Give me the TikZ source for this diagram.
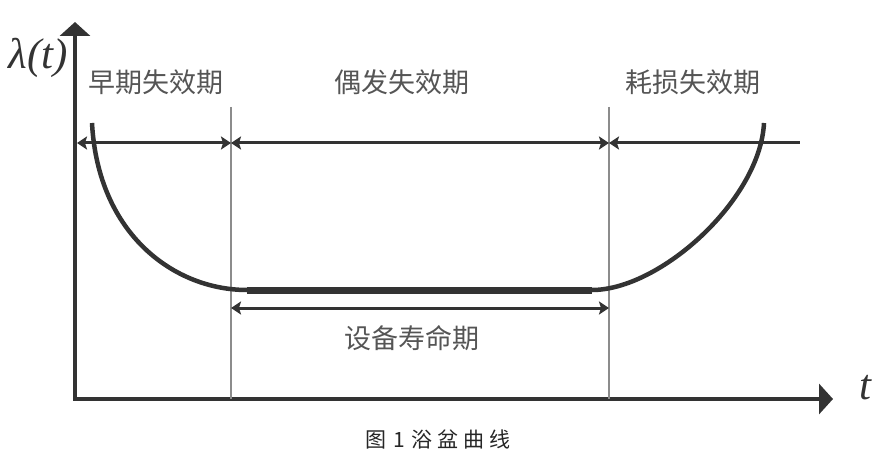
\documentclass[tikz,border=0pt]{standalone}
\usepackage{fontspec}
\newfontfamily\cjk{Noto Sans CJK SC}
\newfontfamily\symfont{Liberation Serif}
\usetikzlibrary{arrows.meta}
\definecolor{ink}{HTML}{333333}
\definecolor{labelgray}{HTML}{555555}
\definecolor{guidegray}{HTML}{8C8C8C}
\begin{document}
\begin{tikzpicture}[x=1pt,y=1pt,
	axis/.style={ink,line width=4.5pt,-{Triangle[length=14pt,width=30pt]}},
	span/.style={ink,line width=3pt},
	tip/.tip={Stealth[length=10pt,width=13pt,inset=2pt]},
	guide/.style={guidegray,line width=1.5pt},
	curve/.style={ink,line width=4.5pt},
	phase/.style={text=labelgray,font=\cjk\fontsize{27}{30}\selectfont},
	axislabel/.style={text=ink,font=\symfont\itshape\fontsize{43}{46}\selectfont}]
	\tikzstyle{every node}+=[inner sep=0pt]
	\useasboundingbox (0,0) rectangle (880,461);
	% axes
	\coordinate (O) at (75,62);
	\coordinate (ytip) at (75,439);
	\coordinate (xstart) at (73,62);
	\coordinate (xtip) at (833,62);
	\draw [axis] (O) -- (ytip);
	\draw [axis] (xstart) -- (xtip);
	\node [axislabel] (lam) at (38,403) {λ(t)};
	\node [axislabel] (tlab) at (865,73) {t};
	% guide lines
	\coordinate (g1top) at (231,354);
	\coordinate (g1bot) at (231,62);
	\coordinate (g2top) at (609,354);
	\coordinate (g2bot) at (609,62);
	\draw [guide] (g1top) -- (g1bot);
	\draw [guide] (g2top) -- (g2bot);
	% phase arrows
	\coordinate (p0) at (77,318);
	\coordinate (p1) at (231,318);
	\coordinate (p2) at (609,318);
	\coordinate (p3) at (800,318);
	\draw [span,tip-tip] (p0) -- (p1);
	\draw [span,tip-tip] (p1) -- (p2);
	\draw [span,tip-] (p2) -- (p3);
	\node [phase] (early) at (156,379) {早期失效期};
	\node [phase] (random) at (402,379) {偶发失效期};
	\node [phase] (wear) at (693,379) {耗损失效期};
	% bathtub curve
	\coordinate (c0) at (92,338);
	\coordinate (c1) at (247,171);
	\coordinate (c2) at (592,171);
	\coordinate (c3) at (764,338);
	\draw [curve] (c0) .. controls (98,226) and (175,171) .. (c1);
	\draw [ink,line width=7pt] (c1) -- (c2);
	\draw [curve] (c2) .. controls (660,171) and (760,261) .. (c3);
	% life span
	\coordinate (l1) at (231,153);
	\coordinate (l2) at (609,153);
	\draw [span,tip-tip] (l1) -- (l2);
	\node [phase] (life) at (412,123) {设备寿命期};
	% caption
	\node (cap) at (438,21) {\cjk\fontsize{21}{24}\selectfont\color{black!85}图\hspace{7pt}1\hspace{7pt}浴\hspace{5pt}盆\hspace{5pt}曲\hspace{5pt}线};
\end{tikzpicture}
\end{document}
